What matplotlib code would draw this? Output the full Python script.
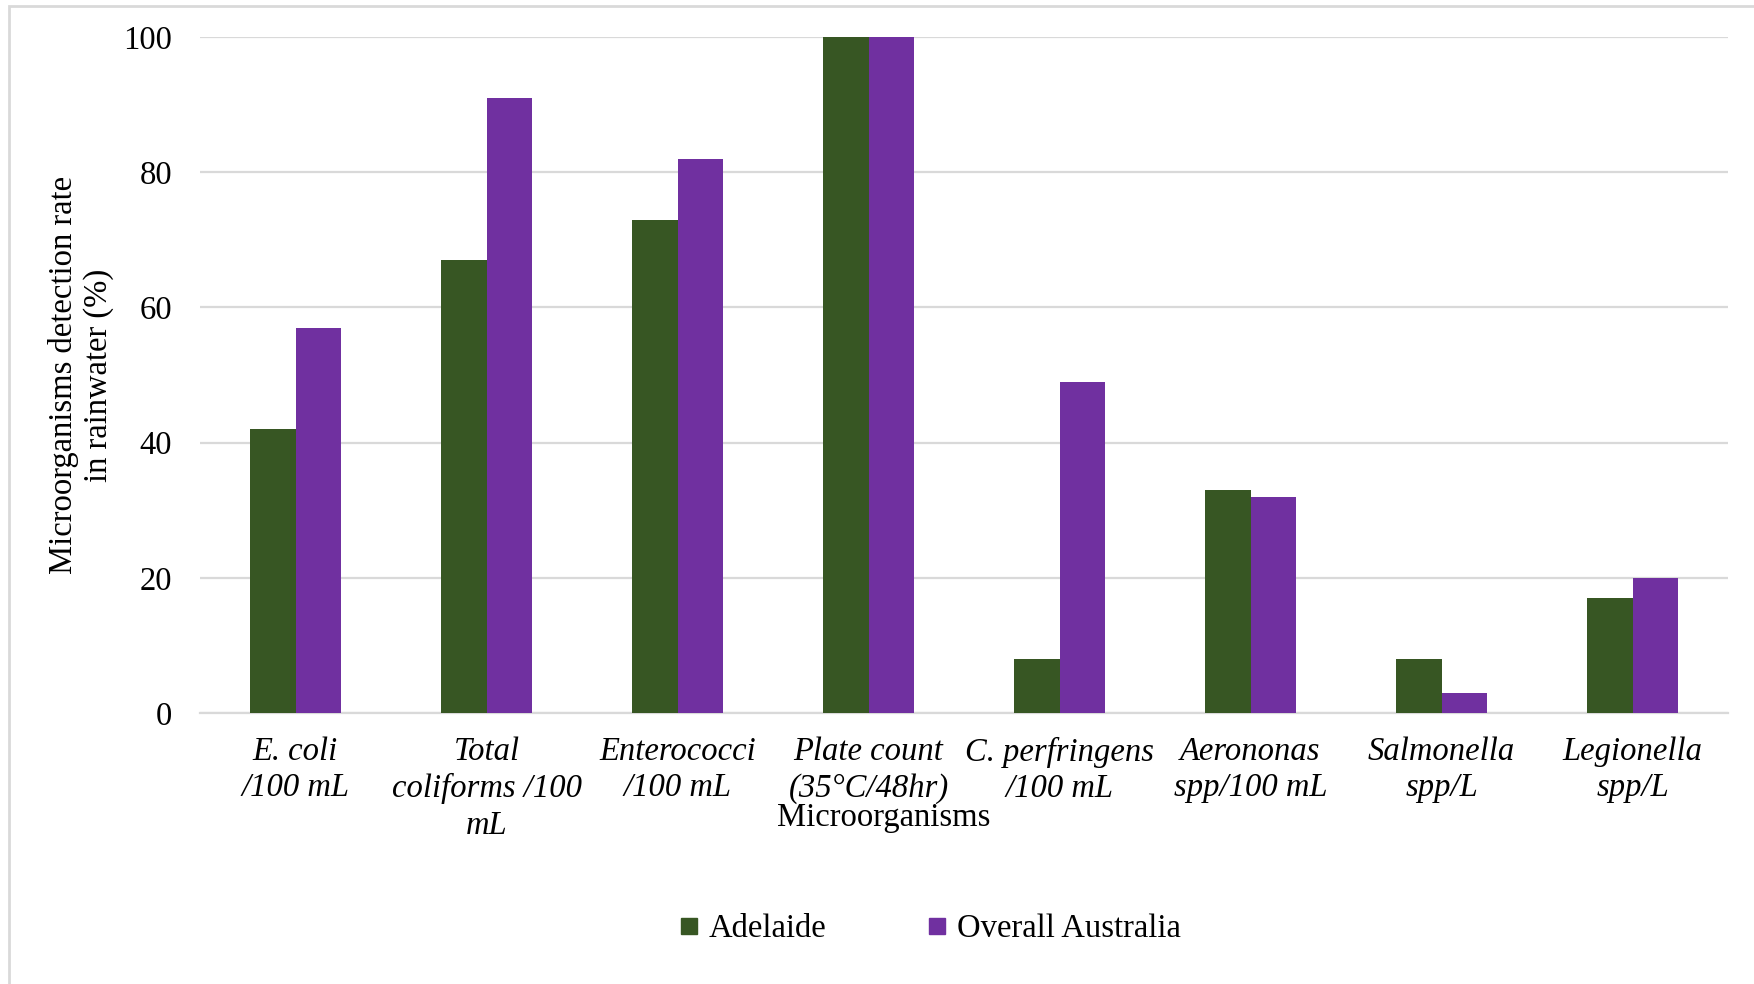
import matplotlib.pyplot as plt
import numpy as np
from matplotlib.lines import Line2D
from matplotlib.patches import Rectangle

categories = ["E. coli\n/100 mL", "Total\ncoliforms /100\nmL", "Enterococci\n/100 mL",
              "Plate count\n(35°C/48hr)", "C. perfringens\n/100 mL", "Aerononas\nspp/100 mL",
              "Salmonella\nspp/L", "Legionella\nspp/L"]
adelaide = [42, 67, 73, 100, 8, 33, 8, 17]
australia = [57, 91, 82, 100, 49, 32, 3, 20]
series_names = ["Adelaide", "Overall Australia"]
yticks = [0, 20, 40, 60, 80, 100]

GREEN = "#375623"
PURPLE = "#7030A0"
GRID = "#d9d9d9"

plt.rcParams['font.family'] = ['Liberation Serif', 'DejaVu Serif']

W, H = 1754, 984
fig = plt.figure(figsize=(W / 100, H / 100), dpi=100)
ax = fig.add_axes([200 / W, 1 - 713 / H, (1728 - 200) / W, (713 - 37) / H])

x = np.arange(len(categories))
bw = 1 / 4.2
ax.bar(x - bw / 2, adelaide, width=bw, color=GREEN, zorder=3)
ax.bar(x + bw / 2, australia, width=bw, color=PURPLE, zorder=3)

ax.set_xlim(-0.5, len(categories) - 0.5)
ax.set_ylim(0, 100)
ax.set_yticks(yticks)
ax.set_yticklabels([str(v) for v in yticks], fontsize=23.5)
ax.yaxis.grid(True, color=GRID, linewidth=1.6, zorder=0)
ax.set_axisbelow(True)
for s in ["top", "right", "left"]:
    ax.spines[s].set_visible(False)
ax.spines["bottom"].set_color(GRID)
ax.spines["bottom"].set_linewidth(1.6)
ax.tick_params(axis="y", length=0, pad=20)
ax.tick_params(axis="x", length=0, pad=17)
ax.set_xticks(x)
ax.set_xticklabels(categories, fontsize=23.5, style="italic", linespacing=1.25)

fig.text(884 / W, 1 - 818 / H, "Microorganisms", ha="center", va="center", fontsize=23.5)
fig.text(81 / W, 1 - 375 / H, "Microorganisms detection rate\nin rainwater (%)",
         ha="center", va="center", rotation=90, fontsize=23.5, linespacing=1.22)

handles = [Line2D([], [], marker="s", linestyle="none", markersize=12, color=c) for c in (GREEN, PURPLE)]
fig.legend(handles, series_names, loc="center", bbox_to_anchor=(928 / W, 1 - 929 / H),
           ncol=2, frameon=False, fontsize=23.5, handletextpad=0.2, columnspacing=3.0,
           handlelength=0.8)

fig.add_artist(Rectangle((9 / W, -0.1), 1.2, 1 - 6 / H + 0.1, transform=fig.transFigure,
                         fill=False, edgecolor=GRID, linewidth=2))

fig.savefig("out.png", dpi=100)
